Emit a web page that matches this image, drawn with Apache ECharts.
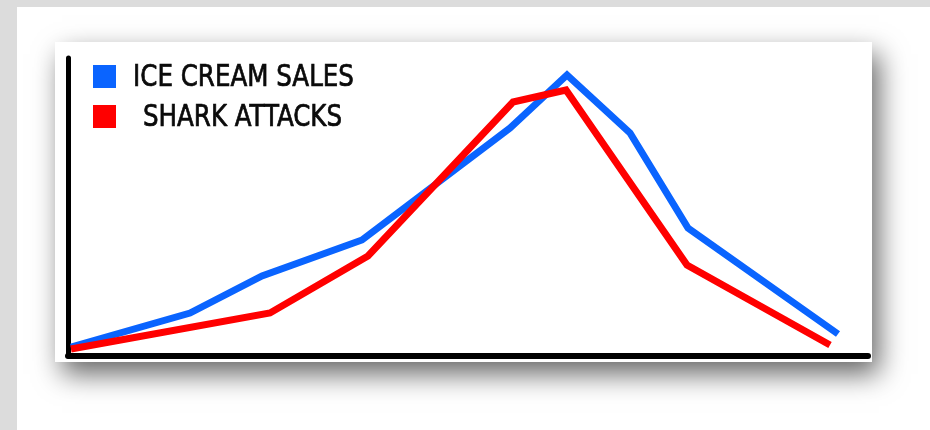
<!DOCTYPE html>
<html>
<head>
<meta charset="utf-8">
<script src="https://cdn.jsdelivr.net/npm/echarts@6/dist/echarts.min.js"></script>
<style>
html,body{margin:0;padding:0;background:#dcdcdc;}
#chart{width:930px;height:430px;}
</style>
</head>
<body>
<div id="chart"></div>
<script>
// Series names (legend)
const seriesNames = ['ICE CREAM SALES', 'SHARK ATTACKS'];
// Ice cream sales: x positions and values
const iceX = [3, 122, 194, 294, 442, 499, 562, 620, 770];
const iceY = [9, 43, 80, 116, 228, 281, 223, 128, 22];
// Shark attacks: x positions and values
const sharkX = [3, 202, 300, 445, 498, 619, 762];
const sharkY = [7, 43, 100, 254, 266, 91, 11];

const pairs = (xs, ys) => xs.map((x, i) => [x, ys[i]]);

const chart = echarts.init(document.getElementById('chart'), null, {renderer: 'canvas'});
const font = "'DejaVu Sans Condensed','DejaVu Sans',sans-serif";
const labelText = (txt, x, y) => ({
  type: 'text', x: x, y: y, scaleX: 0.91, z: 10, silent: true,
  style: {text: txt, x: 0, y: 0, fontFamily: font, fontSize: 30, fill: '#0a0a0a',
    stroke: '#0a0a0a', lineWidth: 0.7, verticalAlign: 'middle', align: 'left'}
});
chart.setOption({
  backgroundColor: '#dcdcdc',
  animation: false,
  graphic: [
    {type: 'rect', z: -20, silent: true, shape: {x: 17, y: 7, width: 913, height: 423}, style: {fill: '#ffffff'}},
    {type: 'rect', z: -10, silent: true, shape: {x: 55, y: 42, width: 817, height: 320},
      style: {fill: '#ffffff', shadowBlur: 26, shadowColor: 'rgba(0,0,0,0.6)', shadowOffsetX: 7, shadowOffsetY: 12}},
    labelText(seriesNames[0], 133, 78),
    labelText(seriesNames[1], 143, 118)
  ],
  grid: {left: 68, top: 58, right: 62, bottom: 74},
  legend: {
    orient: 'vertical', left: 93, top: 65, padding: 0,
    itemWidth: 23, itemHeight: 23, itemGap: 17, icon: 'rect',
    data: seriesNames,
    formatter: () => '',
    textStyle: {fontSize: 1, lineHeight: 1}
  },
  xAxis: {
    type: 'value', min: 0, max: 800,
    axisLine: {show: true, lineStyle: {color: '#000', width: 6}},
    axisTick: {show: false}, axisLabel: {show: false}, splitLine: {show: false}
  },
  yAxis: {
    type: 'value', min: 0, max: 298,
    axisLine: {show: true, lineStyle: {color: '#000', width: 5}},
    axisTick: {show: false}, axisLabel: {show: false}, splitLine: {show: false}
  },
  series: [
    {name: seriesNames[0], type: 'line', data: pairs(iceX, iceY), showSymbol: false, symbol: 'none',
      color: '#0a64ff', lineStyle: {width: 7, color: '#0a64ff', join: 'miter'}, z: 3},
    {name: seriesNames[1], type: 'line', data: pairs(sharkX, sharkY), showSymbol: false, symbol: 'none',
      color: '#ff0000', lineStyle: {width: 7, color: '#ff0000', join: 'miter'}, z: 4}
  ]
});
</script>
</body>
</html>
